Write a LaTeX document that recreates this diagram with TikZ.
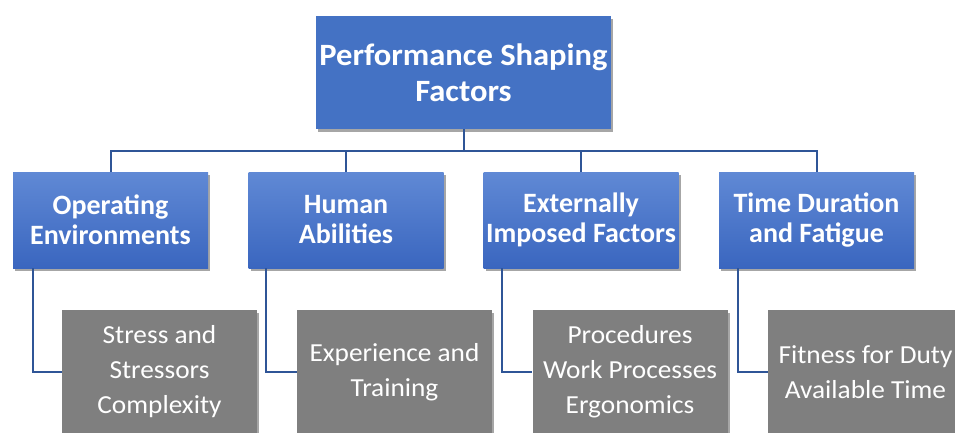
\documentclass[tikz,border=0pt]{standalone}
\usepackage{fontspec}
\setmainfont{Carlito}
\newfontface\topfont[FakeStretch=1.05]{Carlito Bold}
\newfontface\catfont{Carlito Bold}
\newfontface\itemfont[FakeStretch=1.05]{Carlito}
\usetikzlibrary{shadows,calc}
\definecolor{topblue}{HTML}{4472C4}
\definecolor{gtop}{HTML}{6089D5}
\definecolor{gbot}{HTML}{3A66BF}
\definecolor{linkblue}{HTML}{2F5597}
\definecolor{graybox}{HTML}{7F7F7F}
\tikzset{
  boxshadow/.style={drop shadow={shadow xshift=2pt,shadow yshift=-3pt,opacity=0.35,fill=black}},
  topbox/.style={fill=topblue,text=white,minimum width=295pt,minimum height=113pt,inner sep=0pt,align=center,
    font=\topfont\fontsize{31}{36}\selectfont,boxshadow},
  catbox/.style={top color=gtop,bottom color=gbot,text=white,minimum width=195pt,minimum height=96pt,inner sep=0pt,align=center,
    font=\catfont\fontsize{28}{30}\selectfont,boxshadow},
  itembox/.style={fill=graybox,text=white,minimum width=195pt,minimum height=124pt,inner sep=0pt,align=center,
    font=\itemfont\fontsize{26}{35}\selectfont,boxshadow},
  link/.style={draw=linkblue,line width=2pt}
}
\begin{document}
\begin{tikzpicture}[x=1pt,y=-1pt]
\useasboundingbox (0,0) rectangle (955,432);
\clip (0,0) rectangle (955,432);
\fill[white] (0,0) rectangle (955,432);
\coordinate (bus) at (463.5,151);
\node[topbox] (top) at (463.5,72.5) {Performance Shaping\\Factors};
\node[catbox] (b1) at (110.5,220) {Operating\\Environments};
\node[catbox] (b2) at (346,220) {Human\\Abilities};
\node[catbox] (b3) at (581,220) {Externally\\Imposed Factors};
\node[catbox] (b4) at (816.5,220) {Time Duration\\and Fatigue};
\node[itembox] (g1) at (159.5,372) {Stress and\\Stressors\\Complexity};
\node[itembox] (g2) at (394.5,372) {Experience and\\Training};
\node[itembox] (g3) at (630,372) {Procedures\\Work Processes\\Ergonomics};
\node[itembox] (g4) at (865.5,372) {Fitness for Duty\\Available Time};
\draw[link] (top.south) -- (bus);
\draw[link] (b1.north) |- (bus) -| (b4.north);
\draw[link] (b2.north) |- (bus);
\draw[link] (b3.north) |- (bus);
\draw[link] ($(b1.south west)+(20,0)$) |- (g1.west);
\draw[link] ($(b2.south west)+(18,0)$) |- (g2.west);
\draw[link] ($(b3.south west)+(19,0)$) |- (g3.west);
\draw[link] ($(b4.south west)+(19,0)$) |- (g4.west);
\end{tikzpicture}
\end{document}
